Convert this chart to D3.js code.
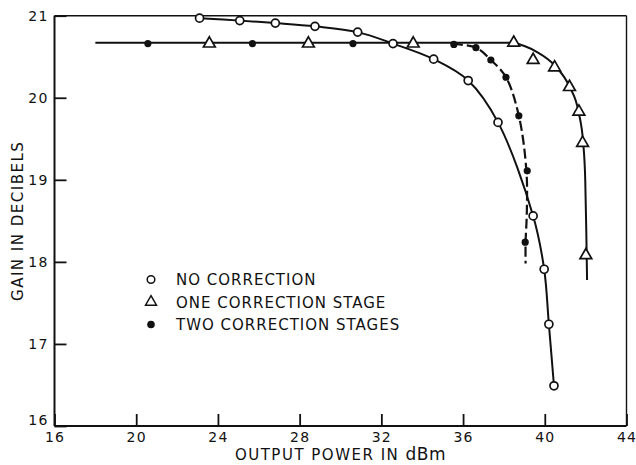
<!DOCTYPE html>
<html>
<head>
<meta charset="utf-8">
<script src="https://cdn.jsdelivr.net/npm/d3@7/dist/d3.min.js"></script>
<style>
  html, body { margin: 0; padding: 0; background: #fff; }
  svg { display: block; }
  text { font-family: "DejaVu Sans", sans-serif; fill: #111; }
</style>
</head>
<body>
<svg id="chart" width="636" height="465"></svg>
<script>
// ---- data ----
const xTicks = [16, 20, 24, 28, 32, 36, 40, 44];
const yTicks = [16, 17, 18, 19, 20, 21];

const seriesNames = ["NO CORRECTION", "ONE CORRECTION STAGE", "TWO CORRECTION STAGES"];

// measured points (output power dBm, gain dB)
const noCorrection = [[23.1,20.97],[25.07,20.94],[26.81,20.91],[28.75,20.87],[30.84,20.80],[32.57,20.66],[34.56,20.47],[36.25,20.21],[37.71,19.70],[39.43,18.56],[39.97,17.91],[40.2,17.24],[40.45,16.49]];
const oneStage = [[23.58,20.66],[28.43,20.66],[33.56,20.66],[38.48,20.67],[39.43,20.46],[40.48,20.37],[41.21,20.13],[41.67,19.83],[41.85,19.45],[42.01,18.08]];
const twoStage = [[20.57,20.66],[25.69,20.66],[30.61,20.66],[35.55,20.65],[36.63,20.61],[37.36,20.46],[38.1,20.25],[38.73,19.78],[39.14,19.11],[39.04,18.24]];

// drawn (fitted) curves
const oneStageCurve = [[18.0,20.67],[38.4,20.67],[39.0,20.63],[39.6,20.56],[40.5,20.39],[41.2,20.14],[41.65,19.83],[41.88,19.45],[41.98,19.0],[42.03,18.4],[42.07,17.78]];
const twoStageCurve = [[35.5,20.655],[36.63,20.61],[37.36,20.46],[38.1,20.25],[38.73,19.78],[39.1,19.11],[39.12,18.6],[39.06,18.24],[39.06,17.98]];

// ---- layout ----
const svg = d3.select("#chart");
const L = 54.5, R = 626.5, T = 15.7, B = 426;
const x = d3.scaleLinear().domain([16, 44]).range([L, R]);
const y = d3.scaleLinear().domain([16, 21]).range([B, T]);

// frame
svg.append("line").attr("x1", L).attr("x2", R).attr("y1", T).attr("y2", T).attr("stroke", "#111").attr("stroke-width", 1.6);
svg.append("line").attr("x1", R).attr("x2", R).attr("y1", T).attr("y2", B).attr("stroke", "#111").attr("stroke-width", 1.4);

// axes
const xAxis = d3.axisBottom(x).tickValues(xTicks).tickSize(-12).tickPadding(0).tickFormat(d3.format("d"));
const gx = svg.append("g").attr("transform", `translate(0,${B})`).call(xAxis);
gx.select(".domain").attr("stroke", "#111").attr("stroke-width", 2);
gx.selectAll(".tick line").attr("stroke", "#111").attr("stroke-width", 1.8);
gx.selectAll(".tick text").attr("font-size", 14).attr("letter-spacing", 1.2)
  .attr("y", 16).attr("dy", 0).attr("font-family", "DejaVu Sans").attr("fill", "#111");

const yAxis = d3.axisLeft(y).tickValues(yTicks).tickSize(-12).tickPadding(6).tickFormat(d3.format("d"));
const gy = svg.append("g").attr("transform", `translate(${L},0)`).call(yAxis);
gy.select(".domain").attr("stroke", "#111").attr("stroke-width", 2);
gy.selectAll(".tick line").attr("stroke", "#111").attr("stroke-width", 1.8);
gy.selectAll(".tick text").attr("font-size", 14).attr("letter-spacing", 1.2)
  .attr("x", -6).attr("font-family", "DejaVu Sans").attr("fill", "#111")
  .attr("dy", d => d === 16 ? "-0.1em" : "0.32em");
gx.selectAll("path.domain").attr("d", `M${L},0H${R}`);
gy.selectAll("path.domain").attr("d", `M0,${B}V${T}`);

// axis titles
const xt = svg.append("text").attr("x", (L + R) / 2 ).attr("y", 460).attr("text-anchor", "middle")
  .attr("font-size", 15).attr("letter-spacing", 1.5);
xt.append("tspan").text("OUTPUT POWER IN ");
xt.append("tspan").attr("font-size", 17).attr("letter-spacing", 0.5).text("dBm");

svg.append("text").attr("transform", `translate(23,${(T + B) / 2}) rotate(-90)`)
  .attr("text-anchor", "middle").attr("font-size", 15).attr("letter-spacing", 1.5)
  .text("GAIN IN DECIBELS");

// curves
const lineMono = d3.line().x(d => x(d[0])).y(d => y(d[1])).curve(d3.curveMonotoneX);
const lineCR = d3.line().x(d => x(d[0])).y(d => y(d[1])).curve(d3.curveCatmullRom.alpha(0.5));

svg.append("path").attr("d", lineMono(oneStageCurve)).attr("fill", "none").attr("stroke", "#111").attr("stroke-width", 2);
svg.append("path").attr("d", lineCR(twoStageCurve)).attr("fill", "none").attr("stroke", "#111").attr("stroke-width", 2.2)
  .attr("stroke-dasharray", "10,4");
svg.append("path").attr("d", lineCR(noCorrection)).attr("fill", "none").attr("stroke", "#111").attr("stroke-width", 2);

// markers
const tri = d3.symbol().type(d3.symbolTriangle).size(60);
svg.append("g").selectAll("path").data(oneStage).join("path")
  .attr("d", tri).attr("transform", d => `translate(${x(d[0])},${y(d[1])})`)
  .attr("fill", "#fff").attr("stroke", "#111").attr("stroke-width", 1.7);
svg.append("g").selectAll("circle").data(twoStage).join("circle")
  .attr("cx", d => x(d[0])).attr("cy", d => y(d[1])).attr("r", 3.6).attr("fill", "#111");
svg.append("g").selectAll("circle").data(noCorrection).join("circle")
  .attr("cx", d => x(d[0])).attr("cy", d => y(d[1])).attr("r", 4).attr("fill", "#fff")
  .attr("stroke", "#111").attr("stroke-width", 1.7);

// legend
const legY = [279.5, 302, 324.5];
const lg = svg.append("g");
lg.append("circle").attr("cx", 151).attr("cy", legY[0]).attr("r", 3.8).attr("fill", "#fff").attr("stroke", "#111").attr("stroke-width", 1.5);
lg.append("path").attr("d", d3.symbol().type(d3.symbolTriangle).size(52)).attr("transform", `translate(151,${legY[1]})`)
  .attr("fill", "#fff").attr("stroke", "#111").attr("stroke-width", 1.5);
lg.append("circle").attr("cx", 151).attr("cy", legY[2]).attr("r", 3.8).attr("fill", "#111");
seriesNames.forEach((n, i) => {
  lg.append("text").attr("x", 176).attr("y", legY[i] + 5.5).attr("font-size", 15).attr("letter-spacing", 1).text(n);
});
</script>
</body>
</html>
